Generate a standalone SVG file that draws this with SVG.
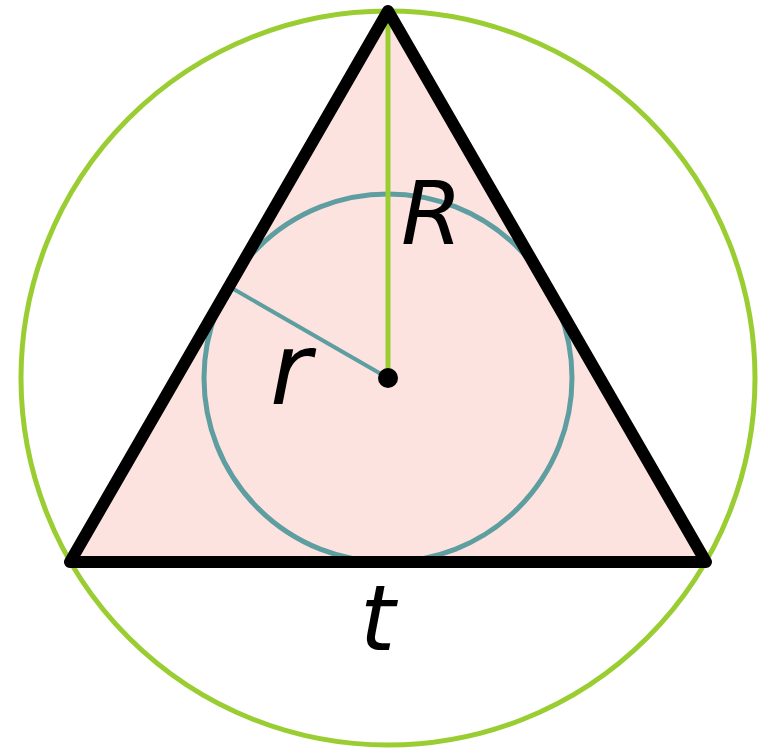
<svg xmlns="http://www.w3.org/2000/svg" width="765" height="749" viewBox="0 0 765 749">
<style>
.lbl{font-family:"DejaVu Sans",sans-serif;font-style:italic;fill:#000}
</style>
<rect width="765" height="749" fill="#fff"/>
<g id="triangle-fill"><polygon points="388,11 70,562 706,562" fill="#fde3e0"/></g>
<g id="incircle"><circle cx="388" cy="378" r="184" fill="none" stroke="#5f9ea0" stroke-width="5"/></g>
<g id="circumcircle"><circle cx="388" cy="378" r="367" fill="none" stroke="#9acd32" stroke-width="5"/></g>
<g id="connectors">
<line x1="388" y1="378" x2="388" y2="14" stroke="#9acd32" stroke-width="5"/>
<line x1="388" y1="378" x2="230" y2="287" stroke="#5f9ea0" stroke-width="4"/>
</g>
<g id="triangle"><polygon points="388,11 70,562 706,562" fill="none" stroke="#000" stroke-width="12" stroke-linejoin="round"/></g>
<g id="center"><circle cx="388" cy="378" r="10" fill="#000"/></g>
<g id="labels">
<text class="lbl" x="401" y="244" font-size="88">R</text>
<text class="lbl" x="270" y="404" font-size="100">r</text>
<text class="lbl" x="360" y="650" font-size="90">t</text>
</g>
</svg>
